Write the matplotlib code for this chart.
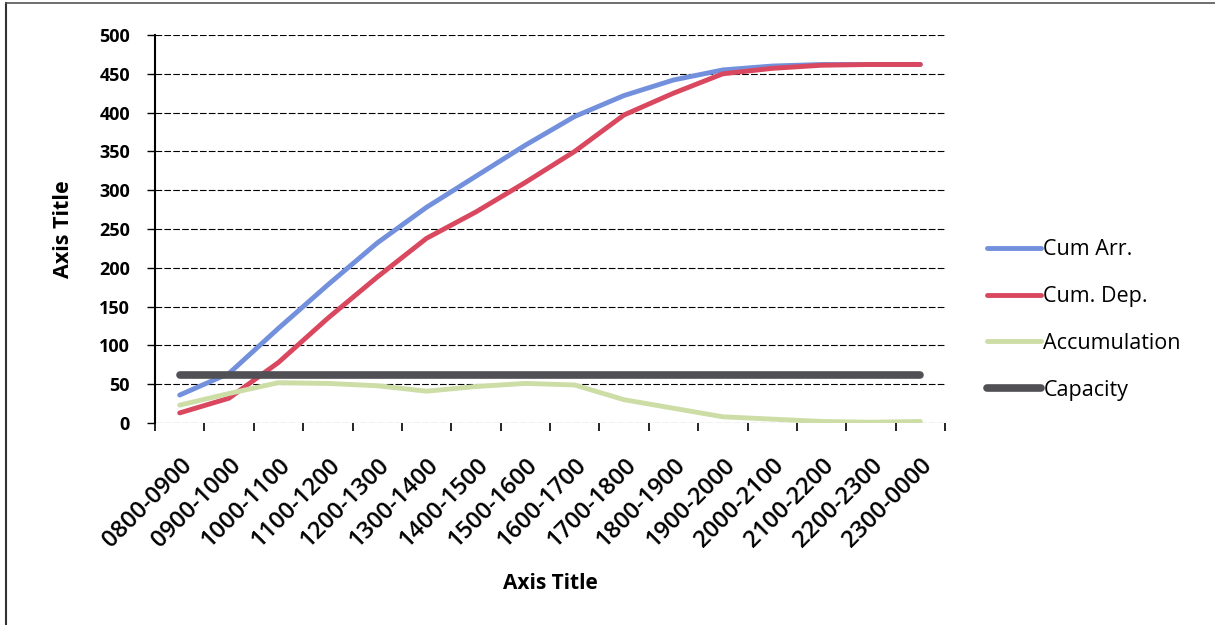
import matplotlib
matplotlib.use("Agg")
import matplotlib.pyplot as plt
from matplotlib.lines import Line2D

# data
periods = ['0800-0900', '0900-1000', '1000-1100', '1100-1200', '1200-1300',
           '1300-1400', '1400-1500', '1500-1600', '1600-1700', '1700-1800',
           '1800-1900', '1900-2000', '2000-2100', '2100-2200', '2200-2300',
           '2300-0000']
cum_arr = [36, 64, 122, 178, 232, 278, 318, 358, 395, 422, 442, 455, 460, 462, 462, 462]
cum_dep = [13, 32, 78, 135, 188, 238, 272, 310, 350, 397, 425, 450, 457, 461, 462, 462]
accumulation = [23, 38, 52, 51, 48, 41, 47, 51, 49, 30, 19, 8, 5, 2, 1, 2]
capacity = [62] * len(periods)

plt.rcParams['font.family'] = ['Open Sans', 'DejaVu Sans']

fig = plt.figure(figsize=(12.15, 6.25), dpi=100)
ax = fig.add_axes([155 / 1215, 1 - 423 / 625, 790 / 1215, 388 / 625])

x = list(range(len(periods)))
ax.plot(x, cum_arr, color='#7390dc', lw=3.5, label='Cum Arr.', solid_capstyle='round')
ax.plot(x, cum_dep, color='#d9485f', lw=3.5, label='Cum. Dep.', solid_capstyle='round')
ax.plot(x, accumulation, color='#cddda6', lw=3.5, label='Accumulation', solid_capstyle='round')
ax.plot(x, capacity, color='#505055', lw=5.5, label='Capacity', solid_capstyle='round')

ax.set_xlim(-0.5, len(periods) - 0.5)
ax.set_ylim(0, 500)
ax.set_yticks(range(0, 501, 50))
ax.yaxis.grid(True, color='black', linestyle=(0, (6, 2)), linewidth=0.8)
ax.set_axisbelow(True)

ax.set_xticks(x)
ax.set_xticklabels(periods, rotation=45, ha='right', rotation_mode='anchor',
                   fontsize=17, fontweight='semibold')
ax.set_xticks([i + 0.5 for i in x[:-1]] + [-0.5, len(periods) - 0.5], minor=True)
ax.tick_params(axis='x', which='major', length=0, pad=22)
ax.tick_params(axis='x', which='minor', length=6, width=1.2, direction='out')
ax.tick_params(axis='y', length=6, width=1, labelsize=13, pad=12)
for lbl in ax.get_yticklabels():
    lbl.set_fontweight('bold')

for side in ['top', 'right', 'bottom']:
    ax.spines[side].set_visible(False)
ax.spines['left'].set_linewidth(1.5)

ax.set_ylabel('Axis Title', fontsize=15.5, fontweight='bold', labelpad=18)
ax.set_xlabel('Axis Title', fontsize=15, fontweight='bold', labelpad=15)

fig.legend(loc='center left', bbox_to_anchor=(968 / 1215, 1 - 320 / 625),
           frameon=False, fontsize=15.5, handlelength=2.5, handletextpad=0.1,
           labelspacing=1.2)

# outer chart border (left and top edges visible in the reference)
fig.add_artist(Line2D([6 / 1215, 6 / 1215], [0, 1 - 3 / 625],
                      transform=fig.transFigure, color='#333333', lw=1.5))
fig.add_artist(Line2D([6 / 1215, 1], [1 - 3 / 625, 1 - 3 / 625],
                      transform=fig.transFigure, color='#555555', lw=1.2))

fig.savefig('out.png', dpi=100)
